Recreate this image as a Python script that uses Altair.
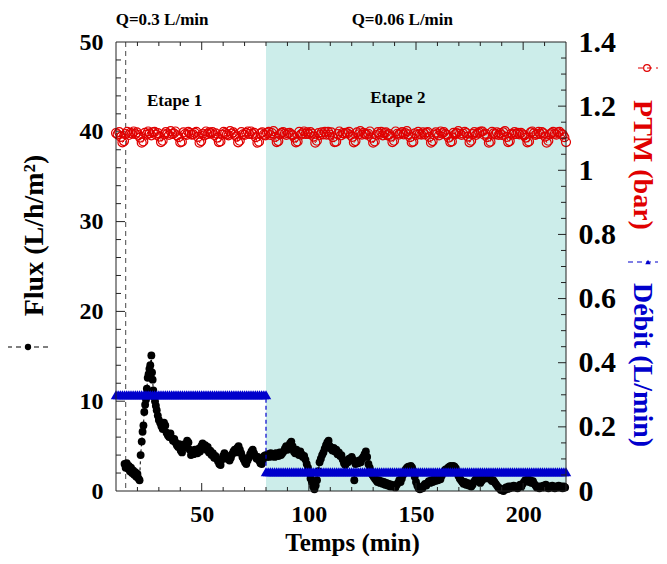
import altair as alt
import pandas as pd

FONT = "Liberation Serif"
W, H = 450, 449
RED = "#e00000"
BLUE = "#0000cc"
TEAL = "#ccedea"
AXC = "#222222"

# ---------------- data ----------------
flux_t_early = [14.0, 14.5, 15.0, 15.5, 16.0, 16.5, 17.0, 17.5, 18.0, 18.5,
                19.0, 19.5, 20.0, 20.5, 21.0, 21.5, 22.0, 22.4, 22.8, 23.2,
                23.6, 24.0, 24.4, 24.8, 25.2, 25.6, 26.0, 26.5, 26.8, 27.1,
                27.4, 27.8, 28.2, 28.6, 29.0, 29.5, 30.0]
flux_v_early = [3.0, 2.6, 3.1, 2.5, 2.8, 2.2, 2.6, 2.0, 2.3, 1.8,
                2.1, 1.6, 1.9, 1.4, 1.2, 4.0, 5.5, 6.6, 7.3, 8.8,
                9.6, 10.2, 11.4, 12.6, 13.0, 13.6, 14.0, 15.1, 13.2, 12.4,
                11.2, 10.5, 10.0, 9.5, 9.0, 8.4, 7.9]
# from 30.6 min, one reading every 0.6 min
flux_v_late = [
    7.6, 7.2, 6.9, 7.6, 7.3, 6.5, 6.2, 6.0, 6.4, 5.9,
    5.6, 5.8, 5.4, 5.1, 4.9, 5.2, 4.5, 4.3, 4.8, 5.2,
    5.0, 5.6, 5.4, 4.6, 4.0, 4.4, 4.1, 4.6, 4.3, 4.2,
    4.7, 4.4, 5.0, 5.3, 4.8, 5.1, 4.6, 4.9, 4.3, 4.5,
    4.0, 4.2, 3.7, 3.9, 3.6, 3.3, 3.0, 2.9, 3.5, 3.9,
    4.2, 4.0, 3.6, 3.8, 3.4, 3.7, 4.1, 4.4, 4.6, 4.3,
    4.8, 5.0, 4.6, 4.2, 3.8, 3.5, 3.2, 3.0, 3.4, 3.7,
    4.1, 4.4, 4.6, 4.2, 3.9, 3.6, 3.8, 3.4, 3.1, 3.0,
    3.5, 3.9, 4.0, 3.8, 4.1, 3.8, 4.2, 3.9, 4.1, 3.8,
    4.2, 4.0, 3.9, 4.3, 4.0, 4.2, 4.4, 4.7, 5.0, 4.6,
    4.9, 5.3, 5.5, 5.0, 4.4, 4.2, 4.6, 4.3, 4.0, 4.4,
    4.1, 3.8, 3.9, 3.5, 3.0, 2.6, 2.0, 1.4, 1.0, 0.5,
    0.2, 0.6, 1.2, 2.2, 3.2, 3.6, 4.0, 4.3, 4.7, 5.1,
    5.4, 5.6, 5.0, 4.7, 4.5, 4.8, 4.4, 4.6, 4.1, 4.3,
    3.9, 4.0, 3.5, 3.1, 2.9, 3.4, 3.2, 3.6, 3.4, 3.8,
    3.5, 1.2, 3.0, 3.3, 3.1, 3.4, 3.2, 3.6, 3.8, 4.1,
    4.4, 3.8, 3.0, 2.6, 2.2, 1.8, 1.6, 1.4, 1.2, 1.0,
    1.2, 0.9, 1.1, 0.8, 1.0, 0.7, 0.9, 0.6, 0.8, 0.5,
    0.7, 0.5, 0.6, 0.4, 0.7, 0.9, 1.2, 1.0, 1.4, 1.8,
    2.1, 2.4, 2.6, 2.7, 2.5, 2.8, 2.6, 2.2, 1.6, 1.0,
    0.6, 0.3, 0.2, 0.4, 0.3, 0.6, 0.8, 0.6, 0.9, 1.1,
    0.9, 1.2, 1.0, 1.3, 1.1, 1.4, 1.2, 1.5, 1.3, 1.7,
    2.0, 2.2, 2.4, 2.3, 2.6, 2.7, 2.8, 2.6, 2.8, 2.7,
    2.5, 2.1, 1.7, 1.4, 1.2, 1.0, 0.8, 1.0, 0.7, 0.9,
    0.6, 0.8, 0.5, 0.7, 1.0, 1.2, 1.4, 1.3, 1.1, 0.9,
    1.1, 1.3, 1.5, 1.6, 1.4, 1.6, 1.5, 1.3, 1.1, 1.2,
    1.0, 0.8, 0.6, 0.4, 0.3, 0.1, 0.2, 0.0, 0.2, 0.4,
    0.2, 0.5, 0.3, 0.5, 0.4, 0.6, 0.4, 0.5, 0.3, 0.5,
    0.7, 0.5, 0.8, 1.0, 1.2, 1.1, 1.3, 1.0, 1.2, 0.9,
    1.1, 0.8, 0.6, 0.4, 0.5, 0.3, 0.5, 0.4, 0.6, 0.4,
    0.7, 0.5, 0.3, 0.5, 0.4, 0.6, 0.4, 0.3, 0.5, 0.4,
    0.6, 0.4, 0.5, 0.3, 0.5, 0.4,
]
flux_t = flux_t_early + [round(30.6 + 0.6 * i, 1) for i in range(len(flux_v_late))]
flux_v = flux_v_early + flux_v_late

# PTM (bar), one reading every 0.75 min from 10 min
ptm_v = [
    1.116, 1.112, 1.119, 1.104, 1.087, 1.091, 1.113, 1.120, 1.110, 1.117, 1.114, 1.121,
    1.113, 1.118, 1.110, 1.102, 1.086, 1.090, 1.117, 1.111, 1.121, 1.115, 1.109, 1.118,
    1.120, 1.111, 1.116, 1.105, 1.088, 1.092, 1.112, 1.119, 1.114, 1.110, 1.122, 1.113,
    1.115, 1.121, 1.109, 1.103, 1.087, 1.089, 1.118, 1.113, 1.110, 1.120, 1.116, 1.111,
    1.112, 1.117, 1.120, 1.104, 1.086, 1.091, 1.114, 1.109, 1.121, 1.113, 1.118, 1.115,
    1.119, 1.110, 1.115, 1.102, 1.088, 1.090, 1.111, 1.120, 1.116, 1.112, 1.109, 1.122,
    1.114, 1.118, 1.111, 1.105, 1.087, 1.092, 1.119, 1.112, 1.110, 1.117, 1.121, 1.113,
    1.121, 1.113, 1.117, 1.103, 1.086, 1.089, 1.115, 1.118, 1.111, 1.109, 1.116, 1.120,
    1.110, 1.116, 1.122, 1.104, 1.088, 1.091, 1.112, 1.117, 1.119, 1.114, 1.110, 1.115,
    1.117, 1.112, 1.109, 1.102, 1.087, 1.090, 1.120, 1.111, 1.115, 1.121, 1.113, 1.118,
    1.113, 1.119, 1.114, 1.105, 1.086, 1.092, 1.116, 1.110, 1.118, 1.112, 1.120, 1.111,
    1.120, 1.111, 1.118, 1.103, 1.088, 1.089, 1.113, 1.121, 1.109, 1.116, 1.114, 1.117,
    1.115, 1.120, 1.110, 1.104, 1.087, 1.091, 1.118, 1.112, 1.122, 1.111, 1.117, 1.113,
    1.111, 1.114, 1.121, 1.102, 1.086, 1.090, 1.110, 1.119, 1.113, 1.120, 1.109, 1.116,
    1.118, 1.109, 1.113, 1.105, 1.088, 1.092, 1.121, 1.114, 1.111, 1.115, 1.119, 1.112,
    1.116, 1.122, 1.112, 1.103, 1.087, 1.089, 1.115, 1.110, 1.120, 1.113, 1.111, 1.118,
    1.112, 1.117, 1.119, 1.104, 1.086, 1.091, 1.111, 1.118, 1.114, 1.109, 1.121, 1.115,
    1.119, 1.113, 1.110, 1.102, 1.088, 1.090, 1.117, 1.112, 1.116, 1.122, 1.114, 1.110,
    1.114, 1.120, 1.116, 1.105, 1.087, 1.092, 1.113, 1.119, 1.110, 1.115, 1.118, 1.121,
    1.121, 1.111, 1.114, 1.103, 1.086, 1.089, 1.120, 1.115, 1.112, 1.118, 1.110, 1.116,
    1.110, 1.118, 1.122, 1.104, 1.088, 1.091, 1.114, 1.111, 1.119, 1.113, 1.117, 1.112,
    1.117, 1.112, 1.109, 1.102, 1.087, 1.090, 1.118, 1.121, 1.115, 1.110, 1.113, 1.120,
    1.113, 1.119, 1.115, 1.105, 1.086, 1.092, 1.112, 1.116, 1.120, 1.114, 1.111, 1.118,
    1.120, 1.114, 1.111, 1.103, 1.088,
]
ptm_t = [round(10 + 0.75 * k, 2) for k in range(len(ptm_v))]

# Debit (L/min), one reading per minute
debit_t = list(range(10, 81)) + list(range(80, 221))
debit_v = [0.3] * 71 + [0.06] * 141

# axis ticks
x_labels = [50, 100, 150, 200]
x_minor = [20, 30, 40, 60, 70, 80, 90, 110, 120, 130, 140, 160, 170, 180, 190, 210]
yl_labels = [0, 10, 20, 30, 40, 50]
yl_major = [10, 20, 30, 40]
yl_minor = [2, 4, 6, 8, 12, 14, 16, 18, 22, 24, 26, 28, 32, 34, 36, 38, 42, 44, 46, 48]
yr_labels = [0, 0.2, 0.4, 0.6, 0.8, 1.0, 1.2, 1.4]
yr_major = [0.2, 0.4, 0.6, 0.8, 1.0, 1.2]
yr_minor = [0.05, 0.1, 0.15, 0.25, 0.3, 0.35, 0.45, 0.5, 0.55, 0.65, 0.7, 0.75,
            0.85, 0.9, 0.95, 1.05, 1.1, 1.15, 1.25, 1.3, 1.35]

ann_t = [31.5, 143.6, 37.3, 141.5]
ann_v = [51.9, 51.9, 42.9, 43.2]
ann_txt = ["Q=0.3 L/min", "Q=0.06 L/min", "Etape 1", "Etape 2"]

# ---------------- frames ----------------
flux_df = pd.DataFrame({"t": flux_t, "v": flux_v, "i": range(len(flux_t))})
ptm_df = pd.DataFrame({"t": ptm_t, "v": ptm_v, "i": range(len(ptm_t))})
debit_df = pd.DataFrame({"t": debit_t, "v": debit_v, "i": range(len(debit_t))})
one = pd.DataFrame({"a": [0]})

x_scale = alt.Scale(domain=[10, 220], nice=False, zero=False)
yl_scale = alt.Scale(domain=[0, 50], nice=False, zero=False)
yr_scale = alt.Scale(domain=[0, 1.4], nice=False, zero=False)

x_axis = alt.Axis(values=x_labels, title="Temps (min)", ticks=False, domain=False, grid=False,
                  labelFont=FONT, labelFontSize=24, labelFontWeight="bold", labelColor="black",
                  labelPadding=11, labelFlush=False, labelOverlap=False,
                  titleFont=FONT, titleFontSize=25, titleFontWeight="bold", titleColor="black",
                  titleX=236, titleY=59, titleBaseline="alphabetic", titleAlign="center")
yl_axis = alt.Axis(values=yl_labels, orient="left", title="Flux (L/h/m²)", ticks=False,
                   domain=False, grid=False, labelFont=FONT, labelFontSize=24,
                   labelFontWeight="bold", labelColor="black", labelPadding=13,
                   labelOverlap=False, labelFlush=False,
                   titleFont=FONT, titleFontSize=28, titleFontWeight="bold", titleColor="black",
                   titleAngle=270, titleX=-82, titleY=193, titleAlign="center",
                   titleBaseline="middle")
yr_axis = alt.Axis(values=yr_labels, orient="right", title="", format="~g", ticks=False,
                   domain=False, grid=False, labelFont=FONT, labelFontSize=30,
                   labelFontWeight="bold", labelColor="black", labelPadding=12,
                   labelOverlap=False, labelFlush=False)


def X(f="t"):
    return alt.X(f"{f}:Q", scale=x_scale, axis=x_axis)


YL = alt.Y("v:Q", scale=yl_scale, axis=yl_axis)
YR = alt.Y("v:Q", scale=yr_scale, axis=yr_axis)

bg = alt.Chart(pd.DataFrame({"t": [80], "t2": [220]})).mark_rect(color=TEAL).encode(
    x=X(), x2="t2:Q", y=alt.value(0), y2=alt.value(H))
vdash = alt.Chart(pd.DataFrame({"t": [14.5]})).mark_rule(
    color="#666666", strokeDash=[5, 4], strokeWidth=1.2).encode(
    x=X(), y=alt.value(0), y2=alt.value(H))

flux_line = alt.Chart(flux_df).mark_line(color="black", strokeDash=[3, 3], strokeWidth=1).encode(
    x=X(), y=YL, order="i:Q")
flux_pts = alt.Chart(flux_df).mark_circle(color="black", size=62, opacity=1).encode(x=X(), y=YL)


def xticks(vals, ln):
    d = pd.DataFrame({"t": vals})
    b = alt.Chart(d).mark_rule(color=AXC, strokeWidth=1).encode(
        x=X(), y=alt.value(H), y2=alt.value(H - ln))
    t = alt.Chart(d).mark_rule(color=AXC, strokeWidth=1).encode(
        x=X(), y=alt.value(0), y2=alt.value(ln))
    return [b, t]


def ylticks(vals, ln):
    d = pd.DataFrame({"v": vals})
    return alt.Chart(d).mark_rule(color=AXC, strokeWidth=1).encode(
        y=YL, x=alt.value(0), x2=alt.value(ln))


def yrticks(vals, ln):
    d = pd.DataFrame({"v": vals})
    return alt.Chart(d).mark_rule(color=AXC, strokeWidth=1).encode(
        y=YR, x=alt.value(W), x2=alt.value(W - ln))


ann = alt.Chart(pd.DataFrame({"t": ann_t, "v": ann_v, "txt": ann_txt})).mark_text(
    font=FONT, fontSize=17, fontWeight="bold", color="black", baseline="alphabetic",
    align="center").encode(x=X(), y=YL, text="txt:N")

left = alt.layer(bg, vdash, flux_line, flux_pts,
                 *xticks(x_labels, 8), *xticks(x_minor, 4),
                 ylticks(yl_major, 9), ylticks(yl_minor, 5), ann)

ptm_line = alt.Chart(ptm_df).mark_line(color=RED, strokeDash=[4, 3], strokeWidth=1).encode(
    x=X(), y=YR, order="i:Q")
ptm_pts = alt.Chart(ptm_df).mark_point(shape="circle", filled=False, color=RED, size=80,
                                       strokeWidth=1.2, opacity=1).encode(x=X(), y=YR)
debit_line = alt.Chart(debit_df).mark_line(color=BLUE, strokeDash=[4, 3], strokeWidth=1.2).encode(
    x=X(), y=YR, order="i:Q")
debit_pts = alt.Chart(debit_df).mark_point(shape="triangle-up", filled=True, color=BLUE,
                                           size=110, opacity=1).encode(x=X(), y=YR)


def vtext(txt, x, y, color, size, angle):
    return alt.Chart(one).mark_text(text=txt, angle=angle, font=FONT, fontSize=size,
                                    fontWeight="bold", color=color, align="center",
                                    baseline="middle").encode(x=alt.value(x), y=alt.value(y))


def lrule(x1, x2, y, color):
    return alt.Chart(one).mark_rule(color=color, strokeDash=[5, 4], strokeWidth=1.2).encode(
        x=alt.value(x1), x2=alt.value(x2), y=alt.value(y))


def lpoint(x, y, shape, color, filled, size):
    return alt.Chart(one).mark_point(shape=shape, filled=filled, color=color, size=size,
                                     opacity=1, strokeWidth=1.2).encode(
        x=alt.value(x), y=alt.value(y))


frame = alt.Chart(one).mark_rect(fillOpacity=0, stroke=AXC, strokeWidth=1).encode(
    x=alt.value(0), x2=alt.value(W), y=alt.value(0), y2=alt.value(H))

right = alt.layer(ptm_line, ptm_pts, debit_line, debit_pts,
                  yrticks(yr_major, 8), yrticks(yr_minor, 5),
                  vtext("PTM (bar)", 526, 123, RED, 28, 90),
                  vtext("Débit (L/min)", 526, 323, BLUE, 28, 90),
                  lrule(-109, -66, 305, "black"), lpoint(-88, 305, "circle", "black", True, 40),
                  lrule(522, 542, 26, RED), lpoint(531, 26, "circle", RED, False, 45),
                  lrule(512, 542, 220, BLUE), lpoint(532, 220, "triangle-up", BLUE, True, 30),
                  frame)

chart = alt.layer(left, right).resolve_scale(y="independent").properties(
    width=W, height=H,
    autosize=alt.AutoSizeParams(type="none"),
    padding={"left": 108, "top": 34, "right": 93, "bottom": 65},
).configure_view(stroke="transparent")

chart.save("out.html", embed_options={"renderer": "svg", "actions": False})
